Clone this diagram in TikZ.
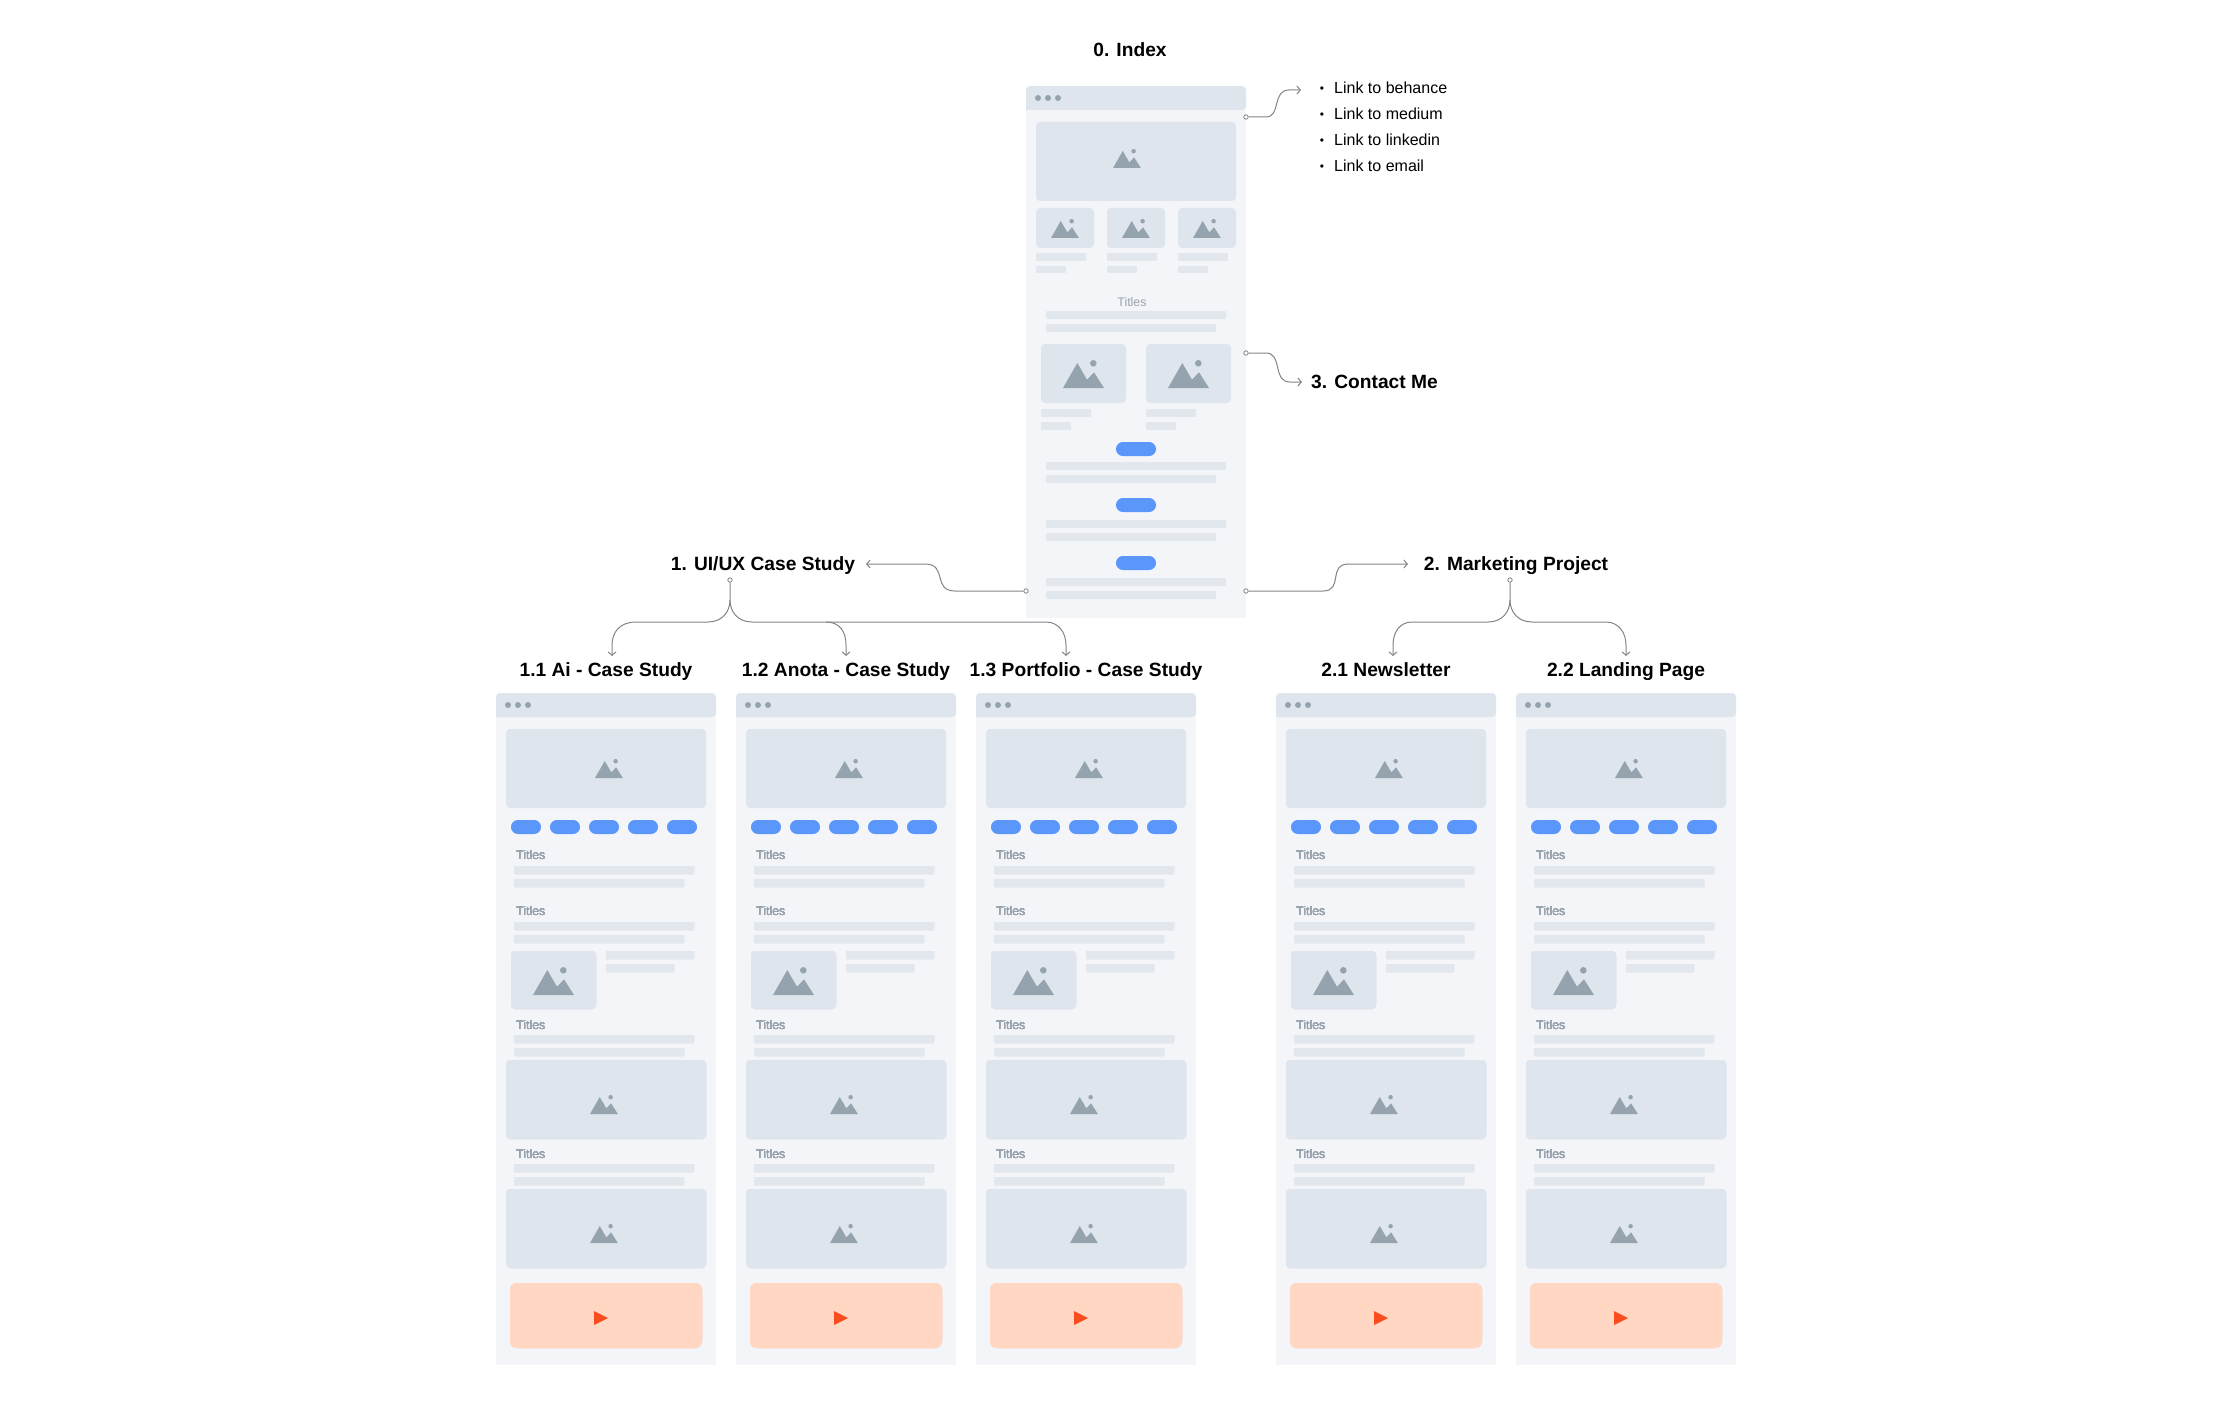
\documentclass[tikz,border=0pt]{standalone}
\usepackage{fontspec}
\usetikzlibrary{arrows.meta}
\setmainfont{Liberation Sans}
\definecolor{pagecol}{HTML}{F3F5F9}
\definecolor{boxcol}{HTML}{DFE5EC}
\definecolor{barcol}{HTML}{E1E7EC}
\definecolor{pillcol}{HTML}{5B97FB}
\definecolor{mtncol}{HTML}{95A3AE}
\definecolor{peachcol}{HTML}{FFD7C2}
\definecolor{playcol}{HTML}{FB4C1E}
\definecolor{titlecol}{HTML}{98A3AD}
\definecolor{linecol}{HTML}{808488}
\tikzstyle{arrow} = [linecol,line width=1pt,-{Straight Barb[length=3.5pt,width=8pt]}]
\tikzstyle{endpt} = [circle,draw=linecol,fill=white,line width=.8pt,inner sep=0pt,minimum size=4.4pt]
\tikzstyle{heading} = [anchor=base,inner sep=0pt,font=\fontsize{19.2}{24}\selectfont\bfseries]
\tikzstyle{linktext} = [anchor=base west,inner sep=0pt,font=\fontsize{16}{20}\selectfont]
\tikzstyle{pagebox} = [anchor=north west,fill=pagecol,inner sep=0pt,minimum width=220pt]
\tikzstyle{titles} = [anchor=base west,inner sep=0pt,text=titlecol,font=\fontsize{12.4}{14}\selectfont]

% x, y, width, height
\newcommand{\imgbox}[4]{\fill[boxcol,rounded corners=4pt] (#1,#2) rectangle ++(#3,#4);}
\newcommand{\txtbar}[4]{\fill[barcol,rounded corners=1pt] (#1,#2) rectangle ++(#3,#4);}
\newcommand{\pill}[3]{\fill[pillcol,rounded corners=6.9pt] (#1,#2) rectangle ++(#3,14);}
% left of base, base y, scale
\newcommand{\mtn}[3]{
	\fill[mtncol] (#1,#2) -- +(14.3*#3,-25*#3) -- +(24*#3,-8.3*#3) -- +(31*#3,-15.7*#3) -- +(41*#3,0) -- cycle;
	\fill[mtncol] (#1,#2) +(30.3*#3,-24.7*#3) circle (3.3pt*#3);
}
% left, top
\newcommand{\pagehead}[2]{
	\fill[boxcol,rounded corners=4pt] (#1,#2+24) -- (#1,#2) -- (#1+220,#2) -- (#1+220,#2+24) [sharp corners] -- cycle;
	\foreach \d in {12,22,32}
		\fill[mtncol] (#1+\d,#2+12) circle (3pt);
}

\begin{document}
\begin{tikzpicture}[x=1pt,y=-1pt]
	\useasboundingbox (0,0) rectangle (2231,1407);

	% index page
	\node[pagebox,minimum height=518pt] (index) at (1026,100) {};
	\pagehead{1026}{86}
	\imgbox{1036}{122}{200}{79}
	\mtn{1113}{168}{.68}
	\foreach \x in {1036,1107,1178}{
		\imgbox{\x}{208}{58}{40}
		\mtn{\x+15}{238}{.68}
		\txtbar{\x}{253}{50}{8}
		\txtbar{\x}{266}{30}{7}
	}
	\node[titles,anchor=base] (indextitle) at (1132,306) {Titles};
	\txtbar{1046}{311}{180}{8}
	\txtbar{1046}{324}{170}{8}
	\foreach \x in {1041,1146}{
		\imgbox{\x}{344}{85}{59}
		\mtn{\x+22}{388}{1}
		\txtbar{\x}{409}{50}{8}
		\txtbar{\x}{422}{30}{8}
	}
	\foreach \y/\b in {442/462,498/520,556/578}{
		\pill{1116}{\y}{40}
		\txtbar{1046}{\b}{180}{8}
		\txtbar{1046}{\b+13}{170}{8}
	}

	% sub pages
	\foreach \px/\pn in {496/p11,736/p12,976/p13,1276/p21,1516/p22}{
		\begin{scope}[xshift=\px pt]
			\node[pagebox,minimum height=660pt] (\pn) at (0,705) {};
			\pagehead{0}{693}
			\imgbox{10}{729}{200}{79}
			\mtn{99}{778}{.68}
			\foreach \x in {15,54,93,132,171}
				\pill{\x}{820}{30}
			\foreach \y/\b in {859/866,915/922,1029/1035,1158/1164}{
				\node[titles] (\pn t\y) at (20,\y) {Titles};
				\txtbar{18}{\b}{180}{8}
				\txtbar{18}{\b+13}{170}{8}
			}
			\imgbox{15}{951}{85}{58}
			\mtn{37}{995}{1}
			\txtbar{110}{951}{88}{8}
			\txtbar{110}{964}{68}{8}
			\imgbox{10}{1060}{200}{79}
			\mtn{94}{1114}{.68}
			\imgbox{10}{1189}{200}{79}
			\mtn{94}{1243}{.68}
			\fill[peachcol,rounded corners=7pt] (14,1283) rectangle (206,1348);
			\fill[playcol] (98,1311) -- (112,1318) -- (98,1325) -- cycle;
		\end{scope}
	}

	% labels
	\node[heading] (l0) at (1130,57) {0. Index};
	\node[heading,anchor=base west] (l3) at (1311,388) {3. Contact Me};
	\node[heading] (l1) at (763,570) {1. UI/UX Case Study};
	\node[heading] (l2) at (1516,570) {2. Marketing Project};
	\node[heading] (l11) at (606,676) {1.1 Ai - Case Study};
	\node[heading] (l12) at (846,676) {1.2 Anota - Case Study};
	\node[heading] (l13) at (1086,676) {1.3 Portfolio - Case Study};
	\node[heading] (l21) at (1386,676) {2.1 Newsletter};
	\node[heading] (l22) at (1626,676) {2.2 Landing Page};

	% link list
	\foreach \y/\t/\n in {94/behance/a,120/medium/b,146/linkedin/c,172/email/d}{
		\node[linktext,anchor=base,font=\fontsize{12}{14}\selectfont] (bul\n) at (1322,\y-1) {•};
		\node[linktext] (link\n) at (1334,\y) {Link to \t};
	}

	% connector ends
	\node[endpt] (s0) at (1246,117) {};
	\node[endpt] (s3) at (1246,353) {};
	\node[endpt] (s1) at (1026,591) {};
	\node[endpt] (s2) at (1246,591) {};
	\node[endpt] (s4) at (730,580) {};
	\node[endpt] (s5) at (1510,580) {};
	\coordinate (e0) at (1301,90);
	\coordinate (e3) at (1302,382);
	\coordinate (e1) at (866,564);
	\coordinate (e2) at (1408,564);
	\coordinate (e11) at (612,656);
	\coordinate (e12) at (846,656);
	\coordinate (e13) at (1066,656);
	\coordinate (e21) at (1393,656);
	\coordinate (e22) at (1626,656);

	\draw[arrow] (s0) -- (1266,117) .. controls (1281,117) and (1272,90) .. (1289,90) -- (e0);
	\draw[arrow] (s3) -- (1266,353) .. controls (1283,353) and (1272,382) .. (1290,382) -- (e3);
	\draw[arrow] (s1) -- (955,591) .. controls (932,591) and (948,564) .. (925,564) -- (e1);
	\draw[arrow] (s2) -- (1323,591) .. controls (1344,591) and (1327,564) .. (1349,564) -- (e2);

	\draw[arrow] (s4) -- (730,600) .. controls (730,612) and (722,622) .. (708,622) -- (636,622) .. controls (620,622) and (612,632) .. (612,645) -- (e11);
	\draw[arrow] (730,600) .. controls (730,612) and (738,622) .. (752,622) -- (826,622) .. controls (840,622) and (846,632) .. (846,645) -- (e12);
	\draw[arrow] (826,622) -- (1046,622) .. controls (1058,622) and (1066,632) .. (1066,645) -- (e13);

	\draw[arrow] (s5) -- (1510,600) .. controls (1510,612) and (1502,622) .. (1488,622) -- (1412,622) .. controls (1400,622) and (1393,632) .. (1393,645) -- (e21);
	\draw[arrow] (1510,600) .. controls (1510,612) and (1518,622) .. (1532,622) -- (1606,622) .. controls (1618,622) and (1626,632) .. (1626,645) -- (e22);
\end{tikzpicture}
\end{document}
